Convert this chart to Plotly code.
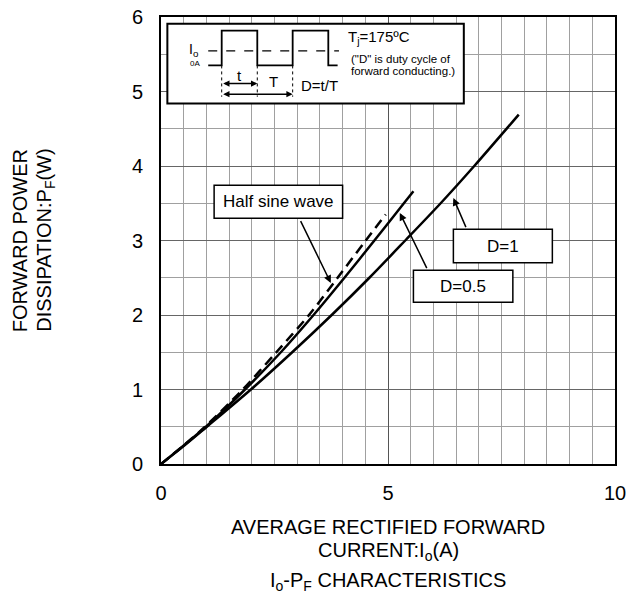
import plotly.graph_objects as go

# ---- data ----
half_sine_x = [0, 0.5, 0.97, 1.8, 2.54, 3.26, 3.89, 4.51, 4.95]
half_sine_y = [0, 0.25, 0.5, 1.0, 1.5, 2.0, 2.5, 3.0, 3.35]

d05_x = [0, 0.5, 0.99, 1.85, 2.64, 3.36, 4.04, 4.70, 5.35, 5.56]
d05_y = [0, 0.25, 0.5, 1.0, 1.5, 2.0, 2.5, 3.0, 3.5, 3.66]

d1_x = [0, 0.5, 1.01, 1.98, 2.89, 3.76, 4.59, 5.38, 6.16, 6.90, 7.88]
d1_y = [0, 0.24, 0.5, 1.0, 1.5, 2.0, 2.5, 3.0, 3.5, 4.0, 4.69]

x_ticks = [0, 5, 10]
y_ticks = [0, 1, 2, 3, 4, 5, 6]

FONT = "Liberation Sans, Arial, sans-serif"

fig = go.Figure()
line_common = dict(color="black", width=2.5, shape="spline", smoothing=0.8)
fig.add_trace(go.Scatter(x=d1_x, y=d1_y, mode="lines", line=line_common, name="D=1"))
fig.add_trace(go.Scatter(x=d05_x, y=d05_y, mode="lines", line=line_common, name="D=0.5"))
fig.add_trace(go.Scatter(x=half_sine_x, y=half_sine_y, mode="lines",
                         line=dict(line_common, dash="10px,6px"), name="Half sine wave"))

shapes = []
annotations = []

def box(x0, x1, y0, y1, text, size=17, lw=1.5):
    shapes.append(dict(type="rect", xref="x", yref="y", x0=x0, x1=x1, y0=y0, y1=y1,
                       line=dict(color="black", width=lw), fillcolor="white", layer="above"))
    if text:
        annotations.append(dict(x=(x0 + x1) / 2, y=(y0 + y1) / 2, xref="x", yref="y",
                                text=text, showarrow=False,
                                font=dict(family=FONT, size=size, color="black")))

def arrow(tx, ty, hx, hy, both=False, width=1.5, size=1.0):
    annotations.append(dict(x=hx, y=hy, ax=tx, ay=ty, xref="x", yref="y", axref="x", ayref="y",
                            text="", showarrow=True, arrowhead=2, arrowsize=size,
                            arrowwidth=width, arrowcolor="black",
                            arrowside="end+start" if both else "end",
                            startarrowhead=2, startarrowsize=size))

# callout boxes
box(1.17, 4.0, 3.30, 3.74, "Half sine wave")
arrow(3.06, 3.28, 3.74, 2.43)
box(5.56, 7.75, 2.17, 2.60, "D=0.5")
arrow(5.87, 2.61, 5.26, 3.37)
box(6.44, 8.62, 2.70, 3.15, "D=1")
arrow(6.73, 3.16, 6.44, 3.57)

# inset
box(0.14, 6.67, 4.84, 5.91, "", lw=2)
wave_x = [1.04, 1.337, 1.337, 2.121, 2.121, 2.90, 2.90, 3.685, 3.685, 3.89]
wave_y = [5.35, 5.35, 5.818, 5.818, 5.35, 5.35, 5.818, 5.818, 5.35, 5.35]
path = "M " + " L ".join(f"{a},{b}" for a, b in zip(wave_x, wave_y))
shapes.append(dict(type="path", path=path, xref="x", yref="y",
                   line=dict(color="black", width=1.8), layer="above"))
shapes.append(dict(type="line", xref="x", yref="y", x0=1.04, x1=3.92, y0=5.544, y1=5.544,
                   line=dict(color="black", width=1.2, dash="dash"), layer="above"))
for vx in [1.337, 2.121, 2.90]:
    shapes.append(dict(type="line", xref="x", yref="y", x0=vx, x1=vx, y0=5.35, y1=4.93,
                       line=dict(color="black", width=1, dash="dot"), layer="above"))
arrow(1.337, 5.107, 2.121, 5.107, both=True, width=1.4, size=0.9)
arrow(1.337, 4.964, 2.90, 4.964, both=True, width=1.4, size=0.9)

def label(x, y, text, size, anchor="center"):
    annotations.append(dict(x=x, y=y, xref="x", yref="y", text=text, showarrow=False,
                            xanchor=anchor, yanchor="middle",
                            font=dict(family=FONT, size=size, color="black")))

label(1.725, 5.22, "t", 15)
label(2.47, 5.13, "T", 15)
label(3.04, 5.08, "D=t/T", 15, "left")
label(0.72, 5.556, "I<sub>o</sub>", 14)
label(0.75, 5.375, "0A", 8)
label(4.07, 5.73, "T<sub>j</sub>=175ºC", 15, "left")
label(4.14, 5.435, "(\"D\" is duty cycle of", 11.5, "left")
label(4.14, 5.27, "forward conducting.)", 11.5, "left")

def paper_text(x, y, text, angle=0):
    annotations.append(dict(xref="paper", yref="paper", x=x, y=y, xanchor="center",
                            yanchor="middle", text=text, textangle=angle, showarrow=False,
                            font=dict(family=FONT, size=20, color="black")))

# axis titles
paper_text(0.5, -0.140, "AVERAGE RECTIFIED FORWARD")
paper_text(0.5, -0.195, "CURRENT:I<sub>o</sub>(A)")
paper_text(0.5, -0.263, "I<sub>o</sub>-P<sub>F</sub> CHARACTERISTICS")
paper_text(-0.311, 0.5, "FORWARD POWER", angle=-90)
paper_text(-0.255, 0.5, "DISSIPATION:P<sub>F</sub>(W)", angle=-90)

fig.update_layout(
    width=629, height=600,
    margin=dict(l=161, r=14, t=17, b=136),
    paper_bgcolor="white", plot_bgcolor="white",
    showlegend=False,
    shapes=shapes, annotations=annotations,
    font=dict(family=FONT, size=20, color="black"),
    xaxis=dict(range=[0, 10], tickvals=x_ticks, ticks="", ticklabelstandoff=10,
               automargin=False,
               showline=True, linecolor="black", linewidth=2, mirror=True,
               showgrid=True, gridcolor="#555555", gridwidth=1.2,
               minor=dict(dtick=0.5, showgrid=True, gridcolor="#a0a0a0", gridwidth=1),
               zeroline=False, fixedrange=True,
               tickfont=dict(family=FONT, size=20, color="black")),
    yaxis=dict(range=[0, 6], tickvals=y_ticks, ticks="", ticklabelstandoff=12,
               automargin=False,
               showline=True, linecolor="black", linewidth=2, mirror=True,
               showgrid=True, gridcolor="#666666", gridwidth=1.2,
               minor=dict(dtick=0.5, showgrid=True, gridcolor="#a0a0a0", gridwidth=1),
               zeroline=False, fixedrange=True,
               tickfont=dict(family=FONT, size=20, color="black")),
)

fig.write_html("out.html", config={"displayModeBar": False},
               post_script="document.body.style.margin='0px';")
